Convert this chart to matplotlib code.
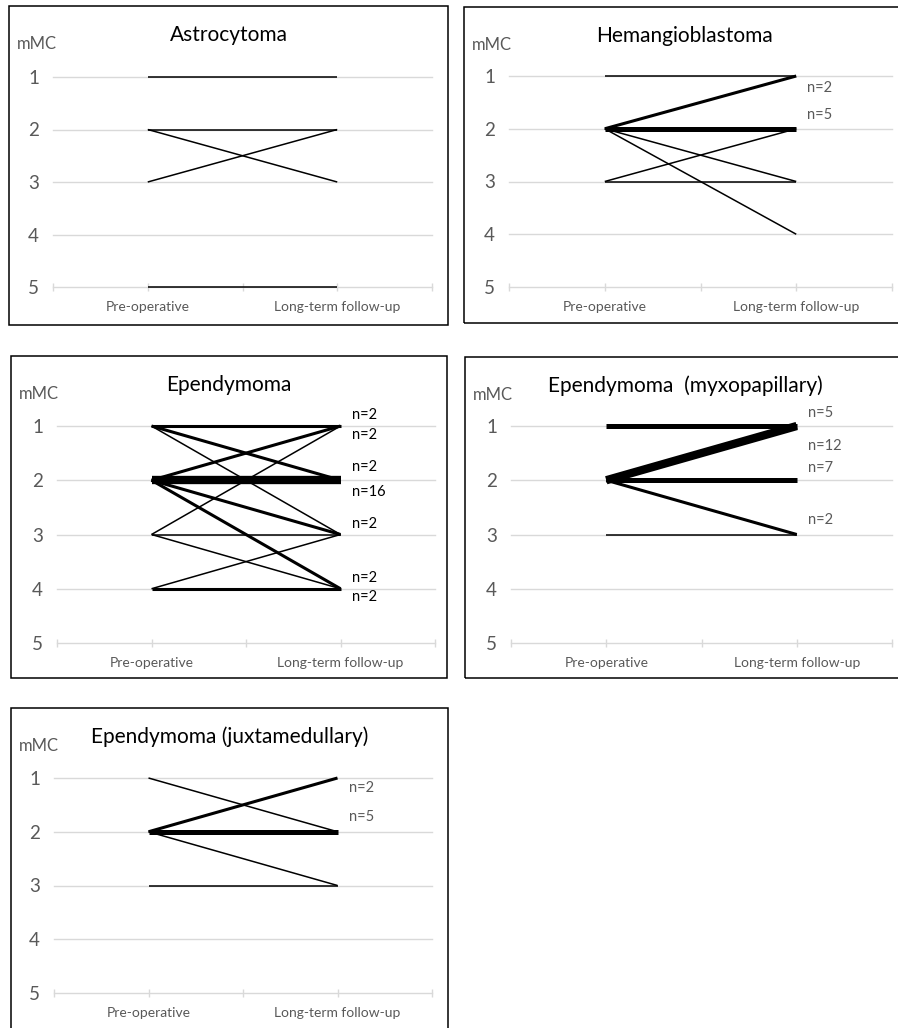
import matplotlib
matplotlib.use("Agg")
import matplotlib.pyplot as plt
from matplotlib.patches import Rectangle

plt.rcParams['font.family'] = ['Lato', 'DejaVu Sans']

# ------------------------------
# Datos: mMC antes y después, y número de pacientes por línea
# ------------------------------
categorias = ["Pre-operative", "Long-term follow-up"]
niveles = [1, 2, 3, 4, 5]

astro_pre = [1, 2, 2, 3, 5]
astro_post = [1, 2, 3, 2, 5]
astro_n = [1, 1, 1, 1, 1]

hemangio_pre = [1, 2, 2, 2, 2, 3, 3]
hemangio_post = [1, 1, 2, 3, 4, 2, 3]
hemangio_n = [1, 2, 5, 1, 1, 1, 1]

epend_pre = [1, 1, 1, 2, 2, 2, 2, 3, 3, 3, 4, 4]
epend_post = [1, 2, 3, 1, 2, 3, 4, 1, 3, 4, 3, 4]
epend_n = [2, 2, 1, 2, 16, 2, 2, 1, 1, 1, 1, 2]

myxo_pre = [1, 2, 2, 2, 3]
myxo_post = [1, 1, 2, 3, 3]
myxo_n = [5, 12, 7, 2, 1]

juxta_pre = [1, 2, 2, 2, 3]
juxta_post = [2, 1, 2, 3, 3]
juxta_n = [1, 2, 5, 1, 1]

# desplazamiento vertical (px) de cada etiqueta "n=" (None = sin etiqueta)
astro_dy = [None] * 5
hemangio_dy = [None, 12, -14, None, None, None, None]
epend_dy = [-11, -13, None, 9, 12, -11, -11, None, None, None, None, 8]
myxo_dy = [-13, 20, -12, -14, None]
juxta_dy = [None, 10, -15, None, None]

W, H = 898, 1028
GRIS = '#595959'
GRILLA = '#d9d9d9'


def grosor(n):
    if n == 1:
        return 1.1
    if n == 2:
        return 2.2
    if n < 10:
        return 3.6
    return 6.0


def panel(fig, titulo, pre, post, n, dy, caja, area, color_n):
    bx0, by0, bx1, by1 = caja
    fig.add_artist(Rectangle((bx0 / W, 1 - by1 / H), (bx1 - bx0) / W, (by1 - by0) / H,
                             transform=fig.transFigure, fill=False, ec='black', lw=1.1))
    fig.text((bx0 + bx1) / 2 / W, 1 - (by0 + 29) / H, titulo, ha='center', va='center',
             fontsize=15, color='black')
    fig.text((bx0 + 8) / W, 1 - (by0 + 38) / H, "mMC", ha='left', va='center',
             fontsize=12, color=GRIS)

    l, r, y1, y5 = area
    ax = fig.add_axes([l / W, 1 - y5 / H, (r - l) / W, (y5 - y1) / H])
    ax.set_xlim(-0.5, 1.5)
    ax.set_ylim(5, 1)
    for s in ['top', 'right', 'left']:
        ax.spines[s].set_visible(False)
    ax.spines['bottom'].set_color(GRILLA)
    ax.spines['bottom'].set_linewidth(1.0)
    ax.spines['bottom'].set_zorder(1)
    for y in niveles[:-1]:
        ax.axhline(y, color=GRILLA, lw=1.0, zorder=0, clip_on=False)

    ax.set_yticks(niveles)
    ax.set_yticklabels([str(v) for v in niveles])
    ax.tick_params(axis='y', length=0, pad=10, labelsize=13.5, labelcolor=GRIS)
    ax.set_xticks([-0.5, 0, 0.5, 1, 1.5])
    ax.set_xticklabels(['', categorias[0], '', categorias[1], ''])
    ax.tick_params(axis='x', direction='inout', length=6, width=1.0, color=GRILLA,
                   pad=7, labelsize=10, labelcolor=GRIS)

    orden = sorted(range(len(n)), key=lambda i: n[i])
    for i in orden:
        ax.plot([0, 1], [pre[i], post[i]], color='black', lw=grosor(n[i]),
                solid_capstyle='butt', clip_on=False, zorder=3)
    for i in range(len(n)):
        if dy[i] is not None:
            ax.annotate("n=%d" % n[i], xy=(1, post[i]), xytext=(8, -dy[i] * 0.72),
                        textcoords='offset points', ha='left', va='center',
                        fontsize=10.5, color=color_n)
    return ax


fig = plt.figure(figsize=(W / 100, H / 100), dpi=100)

panel(fig, "Astrocytoma", astro_pre, astro_post, astro_n, astro_dy,
      (9, 6, 448, 325), (53, 432, 77, 287), GRIS)
panel(fig, "Hemangioblastoma", hemangio_pre, hemangio_post, hemangio_n, hemangio_dy,
      (464, 7, 906, 323), (509, 892, 76, 287), GRIS)
panel(fig, "Ependymoma", epend_pre, epend_post, epend_n, epend_dy,
      (11, 356, 447, 678), (57, 435, 426, 643), 'black')
panel(fig, "Ependymoma  (myxopapillary)", myxo_pre, myxo_post, myxo_n, myxo_dy,
      (465, 357, 906, 678), (511, 892, 426, 643), GRIS)
panel(fig, "Ependymoma (juxtamedullary)", juxta_pre, juxta_post, juxta_n, juxta_dy,
      (11, 708, 448, 1035), (54, 432, 778, 993), GRIS)

plt.savefig("out.png", dpi=100)
